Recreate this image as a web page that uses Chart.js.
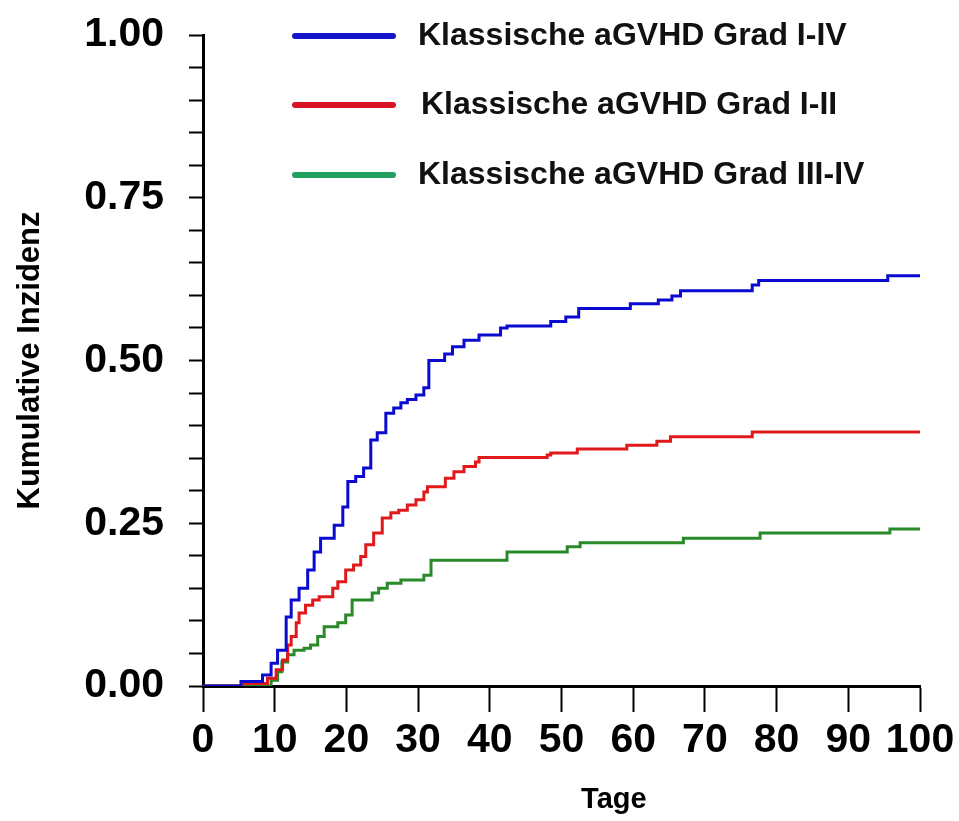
<!DOCTYPE html>
<html>
<head>
<meta charset="utf-8">
<script src="https://cdn.jsdelivr.net/npm/chart.js@4/dist/chart.umd.min.js"></script>
<style>
  html, body { margin: 0; padding: 0; background: #fff; }
  #wrap { position: relative; width: 959px; height: 821px; }
  #legend { position: absolute; left: 0; top: 0; width: 959px; height: 821px; pointer-events: none;
            font-family: "Liberation Sans", Arial, sans-serif; font-weight: bold; color: #111; }
  .lg-line { position: absolute; height: 6px; border-radius: 3px; }
  .lg-text { position: absolute; font-size: 32px; line-height: 36px; white-space: nowrap; }
</style>
</head>
<body>
<div id="wrap">
  <canvas id="c" width="959" height="821"></canvas>
  <div id="legend"></div>
</div>
<script>
// ---- data ----
const seriesNames = ["Klassische aGVHD Grad I-IV", "Klassische aGVHD Grad I-II", "Klassische aGVHD Grad III-IV"];
const seriesColors = ["#0a0ad0", "#e01a1a", "#2a8a2a"];
const legendColors = ["#1414c8", "#d81424", "#22a060"];

const daysI_IV = [0, 5.3, 8.3, 9.5, 10.4, 11.6, 12.3, 13.4, 14.6, 15.5, 16.4, 18.3, 19.5, 20.2, 21.3, 22.4, 23.4, 24.3, 25.5, 26.6, 27.6, 28.5, 29.7, 30.8, 31.5, 33.7, 34.8, 36.4, 38.5, 41.5, 42.4, 48.5, 50.6, 52.4, 59.6, 63.5, 65.4, 66.6, 76.6, 77.5, 95.5, 100];
const incI_IV  = [0, 0.007, 0.017, 0.035, 0.055, 0.106, 0.132, 0.15, 0.178, 0.206, 0.227, 0.247, 0.275, 0.314, 0.322, 0.335, 0.378, 0.389, 0.419, 0.427, 0.435, 0.44, 0.447, 0.458, 0.50, 0.510, 0.521, 0.531, 0.539, 0.55, 0.553, 0.56, 0.567, 0.58, 0.587, 0.593, 0.599, 0.607, 0.616, 0.623, 0.63, 0.63];

const daysI_II = [0, 5.5, 9.0, 10.2, 11.1, 11.8, 12.3, 13.0, 13.4, 14.3, 15.3, 16.2, 18.1, 18.8, 19.9, 21.0, 22.0, 22.7, 23.8, 25.0, 26.2, 27.3, 28.5, 29.7, 30.8, 31.3, 33.8, 35.0, 36.4, 38.0, 38.5, 48.0, 48.5, 52.2, 59.1, 63.3, 65.2, 76.6, 100];
const incI_II  = [0, 0.004, 0.012, 0.025, 0.04, 0.063, 0.076, 0.097, 0.112, 0.124, 0.132, 0.137, 0.15, 0.16, 0.178, 0.186, 0.199, 0.217, 0.235, 0.258, 0.266, 0.27, 0.278, 0.286, 0.298, 0.306, 0.319, 0.329, 0.337, 0.344, 0.351, 0.355, 0.358, 0.364, 0.37, 0.376, 0.383, 0.39, 0.39];

const daysIII_IV = [0, 9.5, 10.4, 11.0, 11.8, 12.7, 14.1, 15.0, 16.0, 16.9, 18.8, 19.9, 20.8, 23.6, 24.5, 25.7, 27.6, 30.8, 31.8, 42.4, 50.8, 52.6, 67.0, 77.7, 95.8, 100];
const incIII_IV  = [0, 0.009, 0.022, 0.037, 0.048, 0.055, 0.058, 0.063, 0.076, 0.091, 0.097, 0.109, 0.132, 0.143, 0.15, 0.158, 0.163, 0.17, 0.193, 0.206, 0.214, 0.22, 0.227, 0.235, 0.241, 0.241];

const xTickLabels = ["0", "10", "20", "30", "40", "50", "60", "70", "80", "90", "100"];
const yTickLabels = ["0.00", "0.25", "0.50", "0.75", "1.00"];
const xTitle = "Tage";
const yTitle = "Kumulative Inzidenz";

// ---- build chart ----
const FONT = "'Liberation Sans', Arial, sans-serif";
function pts(xs, ys) { return xs.map((x, i) => ({ x: x, y: ys[i] })); }
const allDays = [daysI_IV, daysI_II, daysIII_IV];
const allInc = [incI_IV, incI_II, incIII_IV];

const datasets = seriesNames.map((name, i) => ({
  label: name,
  data: pts(allDays[i], allInc[i]),
  borderColor: seriesColors[i],
  backgroundColor: legendColors[i],
  borderWidth: 3,
  stepped: 'before',
  pointRadius: 0,
  fill: false
}));

const chart = new Chart(document.getElementById('c'), {
  type: 'line',
  data: { datasets: datasets },
  options: {
    responsive: false,
    animation: false,
    layout: { padding: { left: 0, right: 39, top: 35, bottom: 0 } },
    plugins: { legend: { display: false }, tooltip: { enabled: false } },
    scales: {
      x: {
        type: 'linear', min: 0, max: 100,
        ticks: {
          stepSize: 10, autoSkip: false, maxRotation: 0, color: '#000', padding: 4,
          font: { family: FONT, size: 41, weight: 'bold' },
          callback: v => xTickLabels[Math.round(v / 10)]
        },
        grid: { drawOnChartArea: false, drawTicks: true, tickLength: 26, tickColor: '#000', tickWidth: 2 },
        border: { display: true, color: '#000', width: 3 },
        title: { display: true, text: '\u0020'.repeat(13) + xTitle, color: '#000', font: { family: FONT, size: 29, weight: 'bold' }, padding: { top: 0, bottom: 4 } },
        afterFit: s => { s.height = 135; s.paddingLeft = 0; s.paddingRight = 0; }
      },
      y: {
        min: 0, max: 1,
        ticks: {
          stepSize: 0.05, autoSkip: false, color: '#000', padding: 25,
          font: { family: FONT, size: 41, weight: 'bold' },
          callback: v => {
            const k = v / 0.25;
            return Math.abs(k - Math.round(k)) < 1e-6 ? yTickLabels[Math.round(k)] : '';
          }
        },
        grid: { drawOnChartArea: false, drawTicks: true, tickLength: 14, tickColor: '#000', tickWidth: 2 },
        border: { display: true, color: '#000', width: 3 },
        title: { display: true, text: yTitle, color: '#000', font: { family: FONT, size: 31, weight: 'bold' }, padding: { top: 12, bottom: 0 } },
        afterFit: s => { s.width = 203; s.paddingTop = 0; s.paddingBottom = 0; }
      }
    }
  }
});

// ---- legend (HTML overlay built from the datasets) ----
const legendRowsY = [36, 105, 175];
const legendTextX = [418, 421, 418];
const lg = document.getElementById('legend');
chart.data.datasets.forEach((ds, i) => {
  const line = document.createElement('div');
  line.className = 'lg-line';
  line.style.left = '292px';
  line.style.width = '104px';
  line.style.top = (legendRowsY[i] - 3) + 'px';
  line.style.background = ds.backgroundColor;
  lg.appendChild(line);
  const t = document.createElement('div');
  t.className = 'lg-text';
  t.style.left = legendTextX[i] + 'px';
  t.style.top = (legendRowsY[i] - 20) + 'px';
  t.textContent = ds.label;
  lg.appendChild(t);
});
</script>
</body>
</html>
